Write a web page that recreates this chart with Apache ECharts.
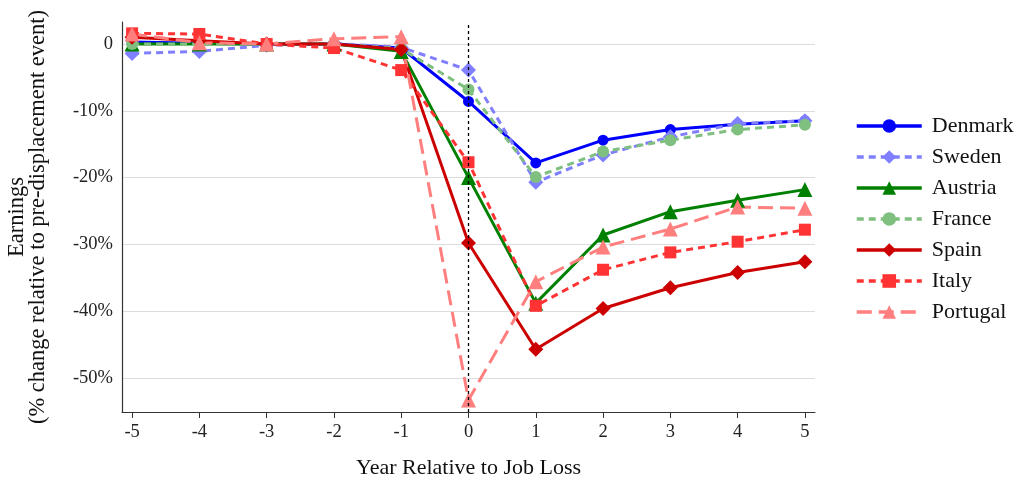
<!DOCTYPE html>
<html>
<head>
<meta charset="utf-8">
<script src="https://cdn.jsdelivr.net/npm/echarts@6/dist/echarts.min.js"></script>
<style>
  html, body { margin: 0; padding: 0; background: #fff; }
  #main { width: 1024px; height: 484px; }
</style>
</head>
<body>
<div id="main"></div>
<script>
// years relative to job loss
const years = [-5, -4, -3, -2, -1, 0, 1, 2, 3, 4, 5]
const yTicks = [-50, -40, -30, -20, -10, 0]

// % change in earnings
const denmark  = [0.3, 0.1, 0, 0, -0.6, -8.6, -17.8, -14.4, -12.8, -12.0, -11.5]
const sweden   = [-1.4, -1.1, -0.2, 0.1, -0.5, -3.9, -20.7, -16.6, -13.9, -11.9, -11.5]
const austria  = [0, 0, 0, 0, -1.1, -20.0, -38.8, -28.6, -25.1, -23.4, -21.8]
const france   = [0, 0, 0, 0, -0.7, -6.8, -19.9, -16.1, -14.4, -12.8, -12.1]
const spain    = [1.0, 0.5, 0, 0, -0.8, -29.8, -45.7, -39.6, -36.5, -34.2, -32.6]
const italy    = [1.6, 1.5, 0, -0.6, -3.9, -17.7, -39.2, -33.8, -31.2, -29.6, -27.8]
const portugal = [1.5, 0.2, 0, 0.8, 1.1, -53.3, -35.6, -30.4, -27.7, -24.4, -24.6]

const font = "'Liberation Serif', 'DejaVu Serif', serif"

function pairs(vals) {
  return years.map((x, i) => [x, vals[i]])
}

function line(name, vals, color, type, symbol, size) {
  return {
    name: name,
    type: 'line',
    data: pairs(vals),
    symbol: symbol,
    symbolSize: size,
    color: color,
    lineStyle: { width: 3, type: type, color: color },
    itemStyle: { color: color },
    z: 3
  }
}

const series = [
  line('Denmark', denmark, '#0000ff', 'solid', 'circle', 11),
  line('Sweden', sweden, '#7f7fff', [7, 5], 'diamond', 15),
  line('Austria', austria, '#008000', 'solid', 'triangle', 15),
  line('France', france, '#7fbf7f', [7, 5], 'circle', 12),
  line('Spain', spain, '#cc0000', 'solid', 'diamond', 15),
  line('Italy', italy, '#ff3333', [7, 5], 'rect', 12),
  line('Portugal', portugal, '#ff7f7f', [15, 7], 'triangle', 15)
]

// vertical dotted line at the job loss year
series[0].markLine = {
  silent: true,
  symbol: 'none',
  label: { show: false },
  lineStyle: { color: '#000', type: [3, 3], width: 1.3 },
  data: [{ xAxis: 0 }]
}

const chart = echarts.init(document.getElementById('main'))
chart.setOption({
  animation: false,
  backgroundColor: '#fff',
  grid: { left: 122, right: 209, top: 22, bottom: 72, outerBoundsMode: 'none' },
  legend: {
    orient: 'vertical',
    left: 850,
    top: 110,
    itemWidth: 65,
    itemHeight: 17,
    itemGap: 9,
    lineStyle: { width: 3.5 },
    textStyle: { fontFamily: font, fontSize: 22, color: '#111', padding: [0, 0, 0, 5] },
    data: series.map(s => s.name)
  },
  xAxis: {
    type: 'value',
    min: -5.15,
    max: 5.15,
    name: 'Year Relative to Job Loss',
    nameLocation: 'middle',
    nameGap: 45,
    nameTextStyle: { fontFamily: font, fontSize: 22, color: '#111' },
    axisLine: { show: true, onZero: false, lineStyle: { color: '#333', width: 1.2 } },
    axisTick: { show: true, length: 6, customValues: years, lineStyle: { color: '#333' } },
    axisLabel: { customValues: years, fontFamily: font, fontSize: 18.5, color: '#222', margin: 11 },
    splitLine: { show: false }
  },
  yAxis: {
    type: 'value',
    min: -55.1,
    max: 3.3,
    name: 'Earnings\n(% change relative to pre-displacement event)',
    nameLocation: 'middle',
    nameRotate: 90,
    nameGap: 73,
    nameTextStyle: { fontFamily: font, fontSize: 22.5, color: '#111', lineHeight: 21 },
    axisLine: { show: true, onZero: false, lineStyle: { color: '#333', width: 1.2 } },
    axisTick: { show: false },
    axisLabel: {
      customValues: yTicks,
      fontFamily: font, fontSize: 18.5, color: '#222', margin: 9,
      formatter: v => v === 0 ? '0' : v + '%'
    },
    splitLine: { show: true, showMinLine: false, showMaxLine: false, lineStyle: { color: '#dcdcdc', width: 1.2 } }
  },
  series: series
})
</script>
</body>
</html>
